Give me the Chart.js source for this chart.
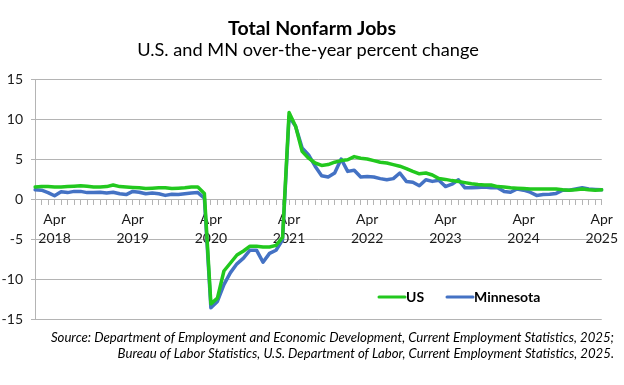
<!DOCTYPE html>
<html><head><meta charset="utf-8">
<script src="https://cdn.jsdelivr.net/npm/chart.js@4.4.1/dist/chart.umd.min.js"></script>
<style>html,body{margin:0;padding:0;background:#fff}canvas{display:block}</style>
</head><body>
<canvas id="c" width="624" height="385"></canvas>
<script>
const titleText = 'Total Nonfarm Jobs';
const subtitleText = 'U.S. and MN over-the-year percent change';
const sourceLines = [
  'Source: Department of Employment and Economic Development, Current Employment Statistics, 2025;',
  'Bureau of Labor Statistics, U.S. Department of Labor, Current Employment Statistics, 2025.'
];
const years = [2018, 2019, 2020, 2021, 2022, 2023, 2024, 2025];
const monthNames = ['Jan','Feb','Mar','Apr','May','Jun','Jul','Aug','Sep','Oct','Nov','Dec'];
const seriesNames = ['US', 'Minnesota'];
const yTicks = [-15, -10, -5, 0, 5, 10, 15];

// Jan 2018 .. Apr 2025
const usValues = [
  1.5, 1.55, 1.55, 1.5, 1.5, 1.55, 1.6, 1.65, 1.6, 1.5, 1.5, 1.55,
  1.75, 1.55, 1.5, 1.45, 1.4, 1.3, 1.35, 1.4, 1.4, 1.3, 1.35, 1.4,
  1.5, 1.5, 0.7, -13.1, -12.4, -9.0, -8.0, -7.0, -6.5, -5.9, -5.9, -6.0,
  -6.0, -5.8, -4.8, 10.8, 9.1, 5.95, 5.1, 4.5, 4.2, 4.3, 4.6, 4.8,
  4.9, 5.3, 5.1, 5.0, 4.8, 4.6, 4.5, 4.3, 4.1, 3.8, 3.45, 3.15,
  3.25, 3.0, 2.55, 2.45, 2.3, 2.2, 2.05, 1.9, 1.8, 1.75, 1.75, 1.55,
  1.5, 1.4, 1.35, 1.3, 1.25, 1.25, 1.25, 1.25, 1.25, 1.15, 1.1, 1.15,
  1.25, 1.15, 1.1, 1.15
];
const mnValues = [
  1.15, 1.1, 0.8, 0.4, 0.9, 0.8, 0.95, 0.95, 0.8, 0.8, 0.85, 0.75,
  0.85, 0.65, 0.55, 0.95, 0.85, 0.65, 0.75, 0.65, 0.45, 0.6, 0.55, 0.65,
  0.75, 0.8, 0.1, -13.6, -12.8, -10.7, -9.2, -8.1, -7.4, -6.4, -6.4, -7.9,
  -6.8, -6.4, -5.1, 10.3, 9.1, 6.4, 5.5, 4.1, 2.9, 2.75, 3.25, 5.0,
  3.45, 3.6, 2.75, 2.8, 2.75, 2.55, 2.4, 2.55, 3.25, 2.2, 2.1, 1.65,
  2.4, 2.2, 2.35, 1.55, 1.85, 2.4, 1.4, 1.4, 1.45, 1.5, 1.4, 1.4,
  0.95, 0.85, 1.25, 1.1, 0.85, 0.45, 0.55, 0.6, 0.7, 1.1, 1.1, 1.25,
  1.4, 1.25, 1.2, 1.15
];

const categories = [];
years.forEach(y => monthNames.forEach(m => { if (categories.length < usValues.length) categories.push(m + ' ' + y); }));

const FONT = 'Lato';
const GRID = '#B4B4B4';
const TXT = '#1a1a1a';
const colors = ['#22C81E', '#4472C4'];

const annot = {
  id: 'annot',
  afterDraw(chart) {
    const ctx = chart.ctx;
    ctx.save();
    ctx.fillStyle = '#000';
    ctx.textAlign = 'center';
    ctx.textBaseline = 'middle';
    ctx.font = 'bold 19.5px ' + FONT;
    ctx.fillText(titleText, 312, 29);
    ctx.font = '18.2px ' + FONT;
    ctx.fillText(subtitleText, 308, 50);

    // legend inside plot
    const items = [{x1: 379, x2: 405, tx: 406}, {x1: 447, x2: 473, tx: 474}];
    chart.data.datasets.forEach((ds, i) => {
      const it = items[i];
      ctx.strokeStyle = ds.borderColor;
      ctx.lineWidth = 3;
      ctx.lineCap = 'round';
      ctx.beginPath(); ctx.moveTo(it.x1, 297); ctx.lineTo(it.x2, 297); ctx.stroke();
      ctx.fillStyle = '#000';
      ctx.textAlign = 'left';
      ctx.font = 'bold 14px ' + FONT;
      ctx.fillText(ds.label, it.tx, 297);
    });

    ctx.textAlign = 'right';
    ctx.fillStyle = '#000';
    ctx.font = 'italic 13.2px ' + FONT;
    ctx.fillText(sourceLines[0], 614, 338);
    ctx.fillText(sourceLines[1], 614, 354);
    ctx.restore();
  }
};

new Chart(document.getElementById('c'), {
  type: 'line',
  data: {
    labels: categories,
    datasets: [
      {label: seriesNames[0], data: usValues, borderColor: colors[0], backgroundColor: colors[0]},
      {label: seriesNames[1], data: mnValues, borderColor: colors[1], backgroundColor: colors[1]}
    ]
  },
  options: {
    responsive: false,
    animation: false,
    devicePixelRatio: 1,
    layout: {padding: {top: 79, right: 22, bottom: 66, left: 0}},
    elements: {
      line: {borderWidth: 3.5, tension: 0, borderJoinStyle: 'round', borderCapStyle: 'round'},
      point: {radius: 0, hoverRadius: 0}
    },
    plugins: {legend: {display: false}, title: {display: false}, tooltip: {enabled: false}},
    scales: {
      x: {
        type: 'category',
        position: {y: 0},
        offset: false,
        grid: {display: true, drawOnChartArea: false, drawTicks: true, tickLength: 5, color: GRID, lineWidth: 1},
        border: {display: true, color: GRID, width: 1},
        ticks: {
          autoSkip: false, maxRotation: 0, minRotation: 0, padding: 6,
          color: TXT, font: {family: FONT, size: 14, lineHeight: 1.35},
          callback: function(value) {
            const lab = this.getLabelForValue(value);
            return lab.startsWith('Apr') ? lab.split(' ') : '';
          }
        }
      },
      y: {
        min: yTicks[0], max: yTicks[yTicks.length - 1],
        afterBuildTicks: s => { s.ticks = yTicks.map(v => ({value: v})); },
        afterFit: s => { s.width = 35; },
        grid: {color: GRID, lineWidth: 1, tickLength: 4},
        border: {display: true, color: GRID, width: 1},
        ticks: {color: TXT, padding: 8, font: {family: FONT, size: 14}}
      }
    }
  },
  plugins: [annot]
});
</script>
</body></html>
